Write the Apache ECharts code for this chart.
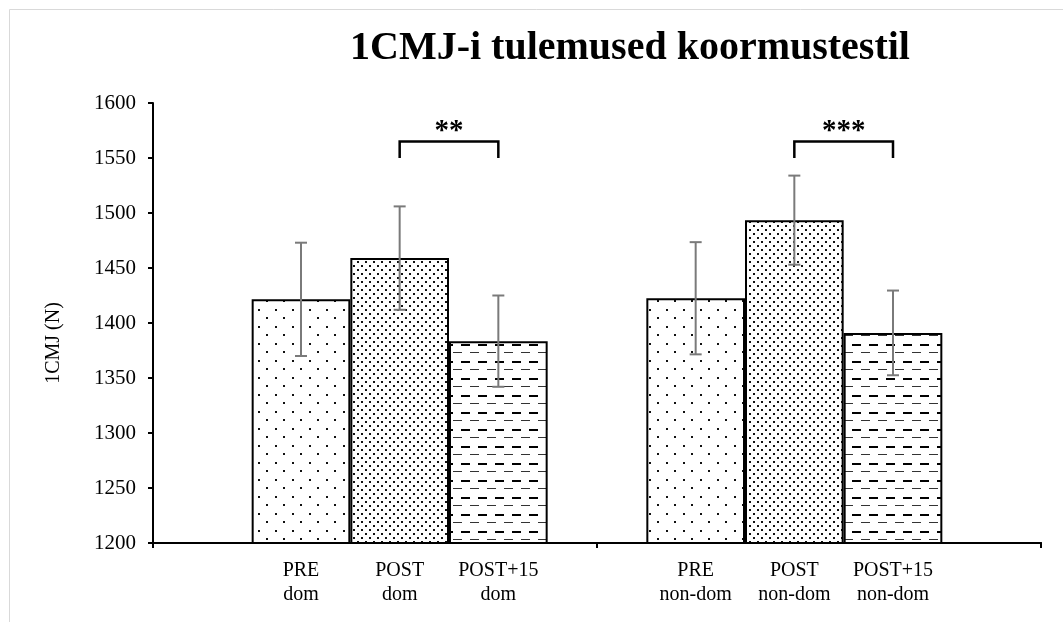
<!DOCTYPE html>
<html>
<head>
<meta charset="utf-8">
<script src="https://cdn.jsdelivr.net/npm/echarts@6/dist/echarts.min.js"></script>
<style>
html,body{margin:0;padding:0;background:#fff;}
#chart{width:1063px;height:622px;}
</style>
</head>
<body>
<div id="chart"></div>
<script>
// ---- data ----
const categories = ['', 'PRE\ndom', 'POST\ndom', 'POST+15\ndom', '', 'PRE\nnon-dom', 'POST\nnon-dom', 'POST+15\nnon-dom', ''];
const groups = ['dom', 'non-dom'];
const means = [null, 1421.5, 1459, 1383.5, null, 1422.5, 1493.5, 1391, null];
const errors = [null, 51.5, 47, 41.5, null, 51, 40.5, 38.5, null];
const patternKinds = [null, 'sparse', 'dense', 'dash', null, 'sparse', 'dense', 'dash', null];
const bracketFrom = [2, 6];
const bracketTo = [3, 7];
const bracketTop = [1565, 1565];
const bracketLeg = [1550, 1550];
const bracketLabels = ['**', '***'];
const yMin = 1200, yMax = 1600, yStep = 50;
const titleText = '1CMJ-i tulemused koormustestil';
const yName = '1CMJ (N)';

// ---- patterns ----
function makePattern(kind) {
  const c = document.createElement('canvas');
  const ctx = c.getContext('2d');
  if (kind === 'sparse') {
    c.width = 17; c.height = 17;
    ctx.fillStyle = '#fff'; ctx.fillRect(0, 0, 17, 17);
    ctx.fillStyle = '#111';
    ctx.fillRect(3, 3, 2, 2);
    ctx.fillRect(11, 11, 2, 2);
  } else if (kind === 'dense') {
    c.width = 8; c.height = 8;
    ctx.fillStyle = '#fff'; ctx.fillRect(0, 0, 8, 8);
    ctx.fillStyle = '#111';
    ctx.fillRect(1, 1, 2, 2);
    ctx.fillRect(5, 5, 2, 2);
  } else {
    c.width = 17; c.height = 17;
    ctx.fillStyle = '#fff'; ctx.fillRect(0, 0, 17, 17);
    ctx.fillStyle = '#000';
    ctx.fillRect(2, 4, 9, 2);
    ctx.fillStyle = '#333';
    ctx.fillRect(11, 12, 6, 1);
    ctx.fillRect(0, 12, 3, 1);
  }
  return { image: c, repeat: 'repeat' };
}

const serif = '"Liberation Serif", "Times New Roman", serif';
const chart = echarts.init(document.getElementById('chart'), null, { renderer: 'canvas' });

const barData = means.map((v, i) => v == null ? null : {
  value: v,
  itemStyle: { color: makePattern(patternKinds[i]) }
});
const errData = means.map((v, i) => v == null ? null : [i, v - errors[i], v + errors[i]]).filter(d => d);
const bracketData = bracketFrom.map((f, i) => [f, bracketTo[i], bracketTop[i], bracketLeg[i], i]);

chart.setOption({
  animation: false,
  backgroundColor: '#fff',
  title: {
    text: titleText,
    left: 345,
    top: 24,
    textStyle: { fontFamily: serif, fontWeight: 'bold', fontSize: 40, color: '#000' }
  },
  graphic: [{
    type: 'rect', left: 7, top: 7, silent: true,
    shape: { x: 0, y: 0, width: 1200, height: 800 },
    style: { fill: 'none', stroke: '#d9d9d9', lineWidth: 1 }
  }],
  grid: { left: 153, right: 22, top: 103, bottom: 79, containLabel: false },
  xAxis: [{
    type: 'category',
    data: categories,
    boundaryGap: true,
    axisLine: { show: true, lineStyle: { color: '#000', width: 2 } },
    axisTick: { show: false },
    axisLabel: {
      interval: 0, margin: 16, fontFamily: serif, fontSize: 20, color: '#000', lineHeight: 24
    },
    splitLine: { show: false }
  }, {
    type: 'category',
    data: groups,
    position: 'bottom',
    boundaryGap: true,
    axisLine: { show: true, lineStyle: { color: '#000', width: 2 } },
    axisTick: { show: true, length: 5, lineStyle: { color: '#000', width: 2 } },
    axisLabel: { show: false },
    splitLine: { show: false }
  }],
  yAxis: {
    type: 'value',
    min: yMin, max: yMax, interval: yStep,
    name: yName,
    nameLocation: 'middle',
    nameGap: 89,
    nameTextStyle: { fontFamily: serif, fontSize: 20, color: '#000', padding: [0, 40, 0, 0] },
    axisLine: { show: true, lineStyle: { color: '#000', width: 2 } },
    axisTick: { show: true, length: 5, lineStyle: { color: '#000', width: 2 } },
    axisLabel: { margin: 17, fontFamily: serif, fontSize: 21, color: '#000',
                 formatter: function (v) { return String(v); } },
    splitLine: { show: false }
  },
  series: [{
    type: 'bar',
    xAxisIndex: 0,
    data: barData,
    barWidth: '100%',
    itemStyle: { borderColor: '#000', borderWidth: 2 },
    z: 2
  }, {
    type: 'custom',
    xAxisIndex: 0,
    data: errData,
    z: 5,
    renderItem: function (params, api) {
      const x = api.value(0);
      const lo = api.coord([x, api.value(1)]);
      const hi = api.coord([x, api.value(2)]);
      const hw = 6;
      const st = { stroke: '#7a7a7a', lineWidth: 2 };
      return {
        type: 'group',
        children: [
          { type: 'line', shape: { x1: hi[0], y1: hi[1], x2: lo[0], y2: lo[1] }, style: st },
          { type: 'line', shape: { x1: hi[0] - hw, y1: hi[1], x2: hi[0] + hw, y2: hi[1] }, style: st },
          { type: 'line', shape: { x1: lo[0] - hw, y1: lo[1], x2: lo[0] + hw, y2: lo[1] }, style: st }
        ]
      };
    }
  }, {
    type: 'custom',
    xAxisIndex: 0,
    data: bracketData,
    z: 6,
    clip: false,
    renderItem: function (params, api) {
      const a = api.coord([api.value(0), api.value(2)]);
      const b = api.coord([api.value(1), api.value(2)]);
      const la = api.coord([api.value(0), api.value(3)]);
      const idx = api.value(4);
      return {
        type: 'group',
        children: [
          { type: 'polyline', shape: { points: [[a[0], la[1]], [a[0], a[1]], [b[0], b[1]], [b[0], la[1]]] },
            style: { stroke: '#000', lineWidth: 2.5, fill: 'none' } },
          { type: 'text', x: (a[0] + b[0]) / 2, y: a[1] + 5,
            style: { text: bracketLabels[idx], fontFamily: serif, fontSize: 29, fontWeight: 'bold', fill: '#000',
                     align: 'center', verticalAlign: 'bottom' } }
        ]
      };
    }
  }]
});
</script>
</body>
</html>
